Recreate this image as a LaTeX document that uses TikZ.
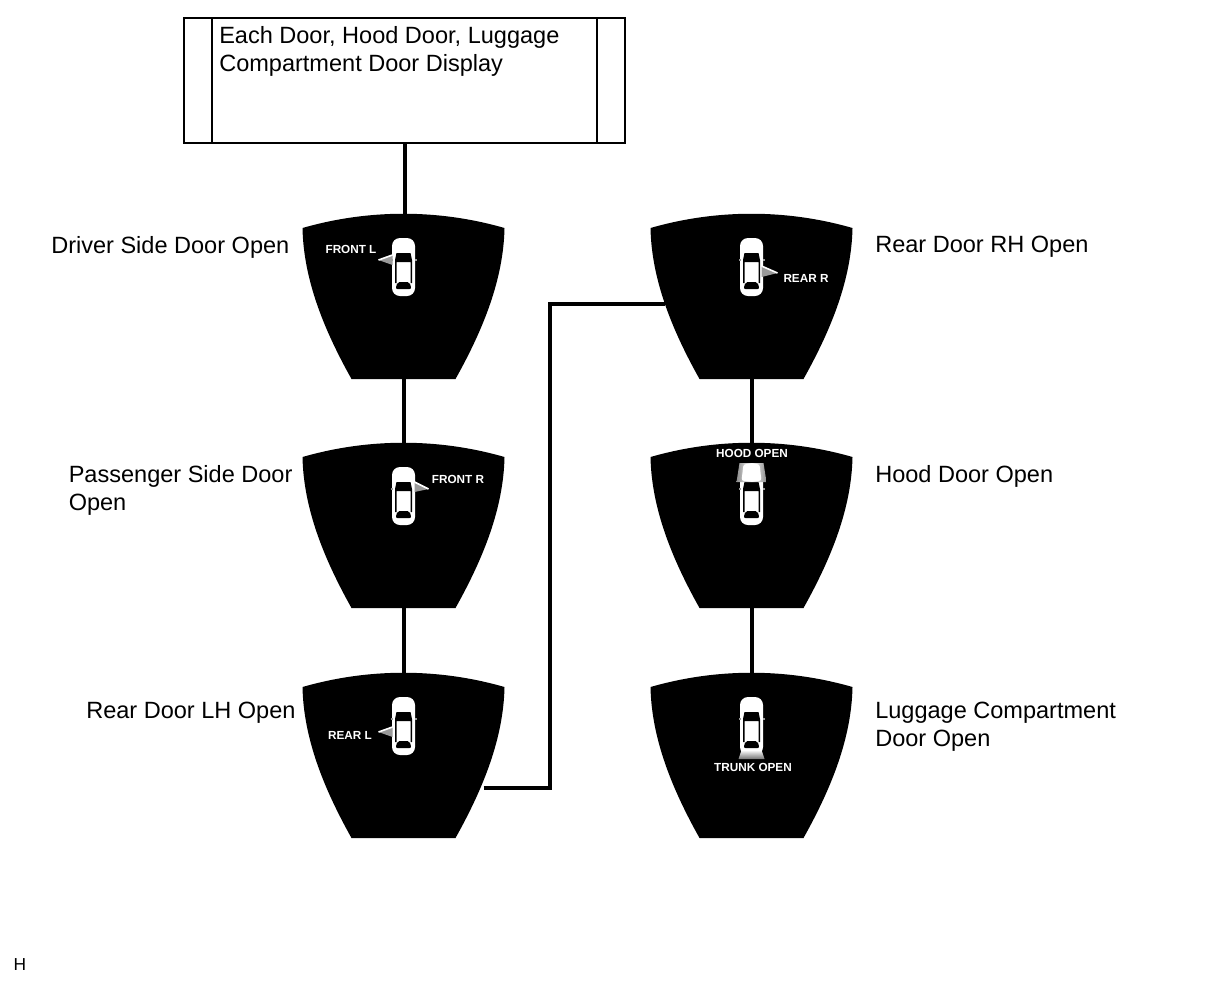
\documentclass[tikz,border=0pt]{standalone}
\usepackage{fontspec}
\setmainfont{Liberation Sans}
\tikzset{
    flowline/.style={line width=3pt},
    lbl/.style={anchor=north west,inner sep=0pt,align=left,font=\fontsize{17.65}{21}\selectfont},
    tag/.style={inner sep=0pt,text=white,font=\fontsize{8.8}{10}\selectfont\bfseries},
    doorwing/.style={fill=white!60!black,draw=none},
    doorpanel/.pic={
        \fill (-101,14) .. controls (-35,-5) and (35,-5) .. (101,14)
            .. controls (100,65) and (80,115) .. (52,165) -- (-52,165)
            .. controls (-80,115) and (-100,65) .. (-101,14) -- cycle;
        \coordinate (-top) at (0,1);
        \coordinate (-bot) at (0,164);
        \coordinate (-lside) at (-87,90);
        \coordinate (-rside) at (80,115);
        \coordinate (-car) at (0,53);
    },
    caricon/.pic={
        \fill[white,rounded corners=6pt] (-11.5,-29) rectangle (11.5,29);
        \fill[white!60!black] (-13,-8) rectangle (-11,-6);
        \fill[white!60!black] (11,-8) rectangle (13,-6);
        % windscreen and the two side lines
        \fill (-7,-14) -- (7,-14) -- (8.5,-7) -- (8.5,16) -- (7,16) -- (7,-5) -- (-7,-5) -- (-7,16) -- (-8.5,16) -- (-8.5,-7) -- cycle;
        % rear window
        \fill[rounded corners=1.5pt] (-6,15) -- (6,15) -- (8,22) -- (-8,22) -- cycle;
    }
}

\begin{document}
\begin{tikzpicture}[x=0.75pt,y=-0.75pt]
    \useasboundingbox (0,0) rectangle (1210,986);

    % display box
    \node [draw,line width=2pt,outer sep=0pt,minimum width=330.75pt,minimum height=93.75pt,inner sep=0pt] (dispbox) at (404.5,80.5) {};
    \draw [line width=2pt] ([xshift=21pt]dispbox.north west) -- ([xshift=21pt]dispbox.south west);
    \draw [line width=2pt] ([xshift=-21pt]dispbox.north east) -- ([xshift=-21pt]dispbox.south east);
    \node [lbl] (disptext) at (219,26) {Each Door, Hood Door, Luggage\\Compartment Door Display};

    % panels
    \foreach \nm/\px/\py in {fl/403.5/214,fr/403.5/443,rl/403.5/673,rr/751.5/214,hd/751.5/443,tr/751.5/673}{%
        \pic (\nm) at (\px,\py) {doorpanel};
    }
    \coordinate (riser) at (550,500);

    % connectors
    \draw [flowline] (dispbox.south) -- (dispbox.south |- fl-top);
    \draw [flowline] (fl-bot) -- (fr-top);
    \draw [flowline] (fr-bot) -- (rl-top);
    \draw [flowline] (rl-rside) -| (riser) |- (rr-lside);
    \draw [flowline] (rr-bot) -- (hd-top);
    \draw [flowline] (hd-bot) -- (tr-top);

    % cars, with what stands open on each
    \foreach \nm in {fl,fr,rl,rr,hd,tr}{%
        \pic at (\nm-car) {caricon};
    }
    \fill [doorwing] ([shift={(-11,-12)}]fl-car) -- ([shift={(-25,-7)}]fl-car) -- ([shift={(-11,-2)}]fl-car) -- cycle;
    \draw [white,line width=1.2pt] ([shift={(-11,-12)}]fl-car) -- ([shift={(-25,-7)}]fl-car);
    \fill [doorwing] ([shift={(11,-14)}]fr-car) -- ([shift={(25,-7)}]fr-car) -- ([shift={(11,-4)}]fr-car) -- cycle;
    \draw [white,line width=1.2pt] ([shift={(11,-14)}]fr-car) -- ([shift={(25,-7)}]fr-car);
    \fill [doorwing] ([shift={(-11,1)}]rl-car) -- ([shift={(-25,6)}]rl-car) -- ([shift={(-11,11)}]rl-car) -- cycle;
    \draw [white,line width=1.2pt] ([shift={(-11,1)}]rl-car) -- ([shift={(-25,6)}]rl-car);
    \fill [doorwing] ([shift={(10,-1)}]rr-car) -- ([shift={(26,6)}]rr-car) -- ([shift={(10,10)}]rr-car) -- cycle;
    \draw [white,line width=1.2pt] ([shift={(10,-1)}]rr-car) -- ([shift={(26,6)}]rr-car);
    \shade [left color=white!55!black,right color=white!55!black,middle color=white] ([shift={(-12,-33)}]hd-car) -- ([shift={(12,-33)}]hd-car) -- ([shift={(15,-14)}]hd-car) -- ([shift={(-15,-14)}]hd-car) -- cycle;
    \fill [white,rounded corners=2pt] ([shift={(-8,-32)}]hd-car) -- ([shift={(8,-32)}]hd-car) -- ([shift={(10,-15)}]hd-car) -- ([shift={(-10,-15)}]hd-car) -- cycle;
    \shade [top color=white,bottom color=white!45!black] ([shift={(-10,24)}]tr-car) -- ([shift={(10,24)}]tr-car) -- ([shift={(13,33)}]tr-car) -- ([shift={(-13,33)}]tr-car) -- cycle;

    % panel tags
    \node [tag] (flsign) at (351,249.5) {FRONT L};
    \node [tag] (frsign) at (458,479.5) {FRONT R};
    \node [tag] (rlsign) at (350,735.5) {REAR L};
    \node [tag] (rrsign) at (806,278.5) {REAR R};
    \node [tag] (hdsign) at (752,453.5) {HOOD OPEN};
    \node [tag] (trsign) at (753,767.5) {TRUNK OPEN};

    % outer labels
    \node [lbl] (fltext) at (51,236) {Driver Side Door Open};
    \node [lbl] (frtext) at (68.5,465) {Passenger Side Door\\Open};
    \node [lbl] (rltext) at (86,702) {Rear Door LH Open};
    \node [lbl] (rrtext) at (875,236) {Rear Door RH Open};
    \node [lbl] (hdtext) at (875,465) {Hood Door Open};
    \node [lbl] (trtext) at (875,702) {Luggage Compartment\\Door Open};
    \node [inner sep=0pt,font=\fontsize{13}{15}\selectfont] (hmark) at (20,965) {H};
\end{tikzpicture}
\end{document}
